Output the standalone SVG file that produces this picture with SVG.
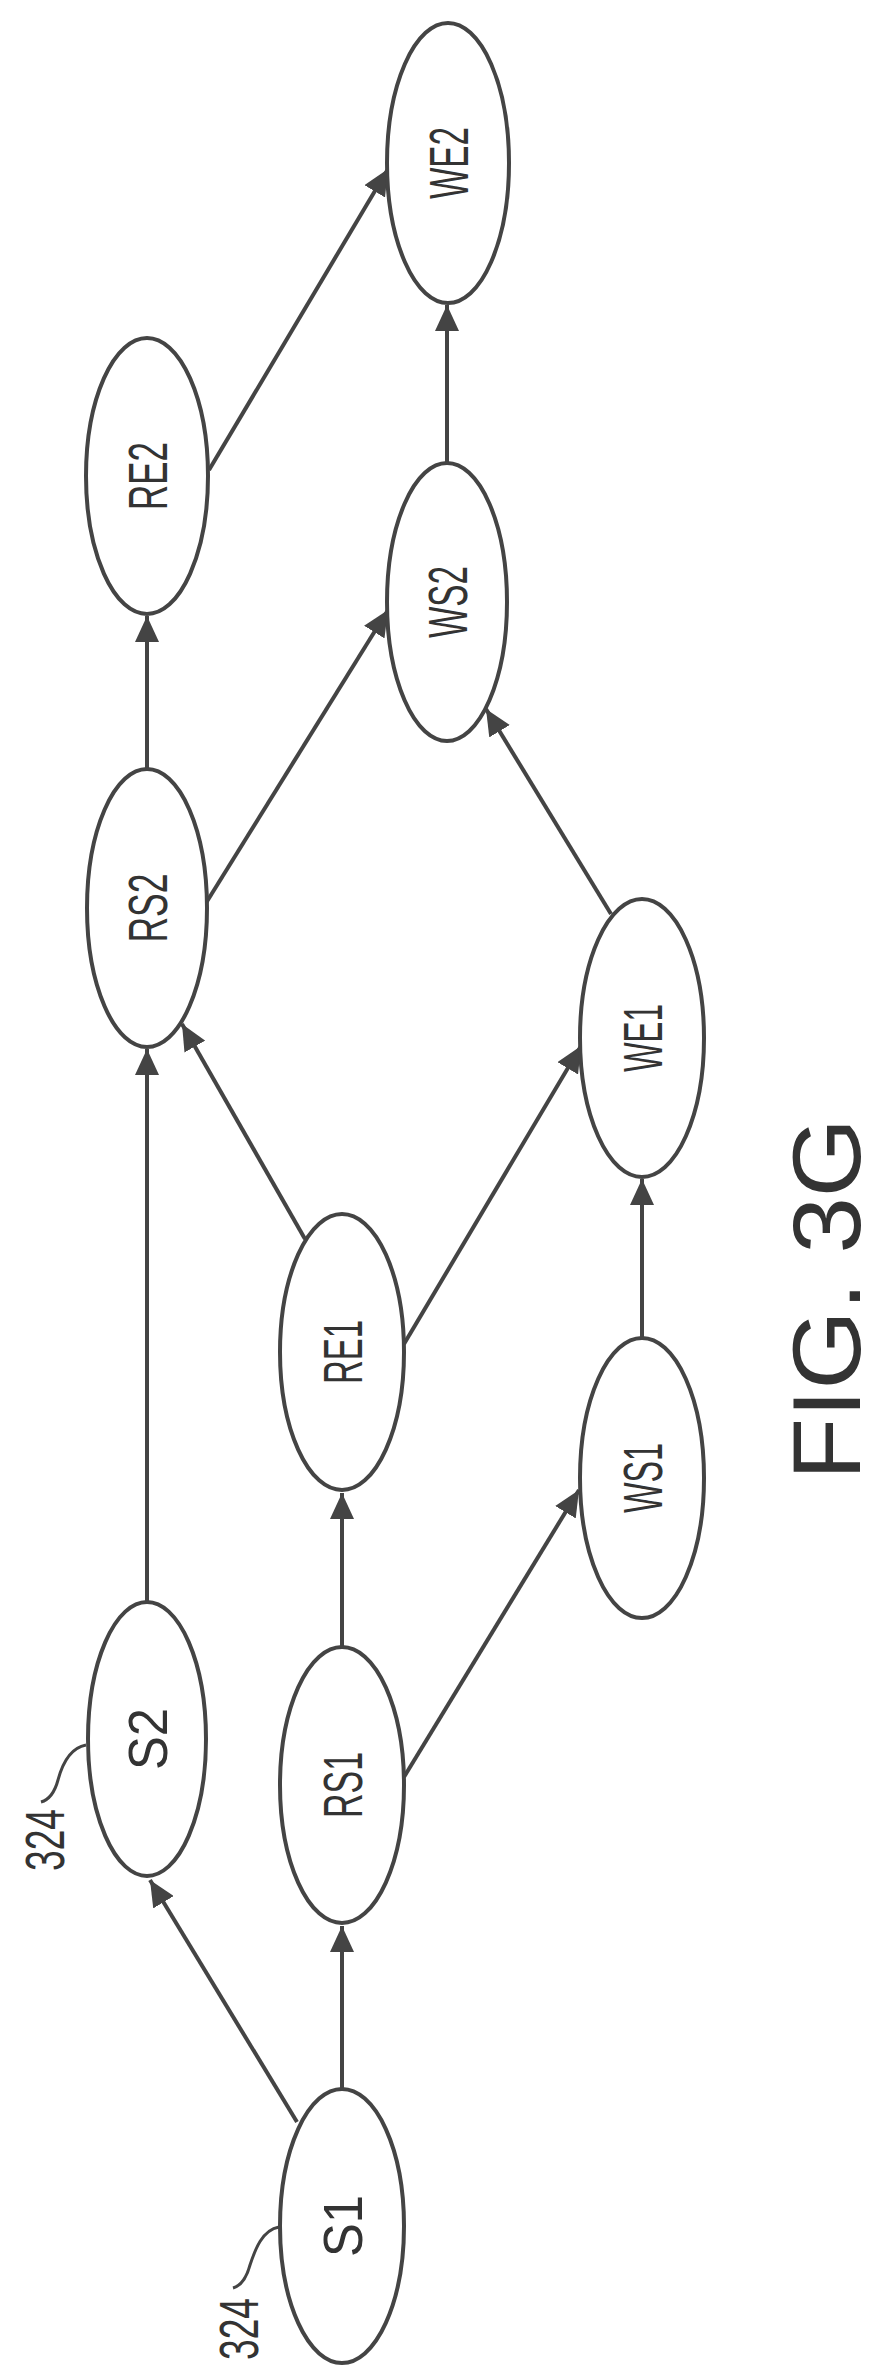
<svg xmlns="http://www.w3.org/2000/svg" width="874" height="2377" viewBox="0 0 874 2377">
<style>
.n{fill:#fff;stroke:#444;stroke-width:4}
.t{font-family:"Liberation Sans",Arial,sans-serif;font-size:56px;fill:#333;text-anchor:middle;dominant-baseline:central}
.e{stroke:#444;stroke-width:4;fill:none;marker-end:url(#a)}
.l{stroke:#444;stroke-width:3;fill:none}
</style>
<defs>
<marker id="a" markerUnits="userSpaceOnUse" markerWidth="28" markerHeight="24" refX="26" refY="12" orient="auto"><path d="M0,0 L26,12 L0,24 Z" fill="#444"/></marker>
</defs>
<rect width="874" height="2377" fill="#fff"/>
<g id="connectors">
<line class="e" x1="342" y1="2088" x2="342" y2="1926"/>
<line class="e" x1="297" y1="2122" x2="150" y2="1880"/>
<line class="e" x1="147" y1="1602" x2="147" y2="1049"/>
<line class="e" x1="342" y1="1647" x2="342" y2="1493"/>
<line class="e" x1="404" y1="1777" x2="579" y2="1490"/>
<line class="e" x1="305" y1="1239" x2="182" y2="1024"/>
<line class="e" x1="404" y1="1344" x2="581" y2="1046"/>
<line class="e" x1="642" y1="1338" x2="642" y2="1179"/>
<line class="e" x1="611" y1="914" x2="486" y2="709"/>
<line class="e" x1="206" y1="903" x2="388" y2="610"/>
<line class="e" x1="147" y1="770" x2="147" y2="616"/>
<line class="e" x1="209" y1="470" x2="388" y2="169"/>
<line class="e" x1="447" y1="463" x2="447" y2="305"/>
<path class="l" d="M279,2227 C262,2230 255,2250 250,2265 C246,2280 240,2286 233,2288"/>
<path class="l" d="M86,1745 C70,1748 62,1765 58,1780 C54,1795 48,1800 41,1802"/>
</g>
<g id="S1"><ellipse class="n" cx="342" cy="2226" rx="62" ry="137"/><text class="t" transform="rotate(-90 342 2226)" x="342" y="2226" textLength="62" lengthAdjust="spacingAndGlyphs">S1</text></g>
<g id="S2"><ellipse class="n" cx="147" cy="1739" rx="59" ry="137"/><text class="t" transform="rotate(-90 147 1739)" x="147" y="1739" textLength="62" lengthAdjust="spacingAndGlyphs">S2</text></g>
<g id="RS1"><ellipse class="n" cx="342" cy="1785" rx="62" ry="138"/><text class="t" transform="rotate(-90 342 1785)" x="342" y="1785" textLength="66" lengthAdjust="spacingAndGlyphs">RS1</text></g>
<g id="RE1"><ellipse class="n" cx="342" cy="1352" rx="62" ry="138"/><text class="t" transform="rotate(-90 342 1352)" x="342" y="1352" textLength="64" lengthAdjust="spacingAndGlyphs">RE1</text></g>
<g id="WS1"><ellipse class="n" cx="642" cy="1478" rx="62" ry="140"/><text class="t" transform="rotate(-90 642 1478)" x="642" y="1478" textLength="70" lengthAdjust="spacingAndGlyphs">WS1</text></g>
<g id="WE1"><ellipse class="n" cx="642" cy="1038" rx="62" ry="139"/><text class="t" transform="rotate(-90 642 1038)" x="642" y="1038" textLength="68" lengthAdjust="spacingAndGlyphs">WE1</text></g>
<g id="RS2"><ellipse class="n" cx="147" cy="908" rx="60" ry="139"/><text class="t" transform="rotate(-90 147 908)" x="147" y="908" textLength="69" lengthAdjust="spacingAndGlyphs">RS2</text></g>
<g id="WS2"><ellipse class="n" cx="447" cy="602" rx="60" ry="139"/><text class="t" transform="rotate(-90 447 602)" x="447" y="602" textLength="72" lengthAdjust="spacingAndGlyphs">WS2</text></g>
<g id="RE2"><ellipse class="n" cx="147" cy="476" rx="61" ry="138"/><text class="t" transform="rotate(-90 147 476)" x="147" y="476" textLength="68" lengthAdjust="spacingAndGlyphs">RE2</text></g>
<g id="WE2"><ellipse class="n" cx="448" cy="163" rx="61" ry="140"/><text class="t" transform="rotate(-90 448 163)" x="448" y="163" textLength="72" lengthAdjust="spacingAndGlyphs">WE2</text></g>
<g id="labels">
<text class="t" transform="rotate(-90 238 2329)" x="238" y="2329" textLength="62" lengthAdjust="spacingAndGlyphs">324</text>
<text class="t" transform="rotate(-90 44 1840)" x="44" y="1840" textLength="62" lengthAdjust="spacingAndGlyphs">324</text>
<text class="t" style="font-size:96px" transform="rotate(-90 826 1299)" x="826" y="1299" textLength="362" lengthAdjust="spacingAndGlyphs">FIG. 3G</text>
</g>
</svg>
